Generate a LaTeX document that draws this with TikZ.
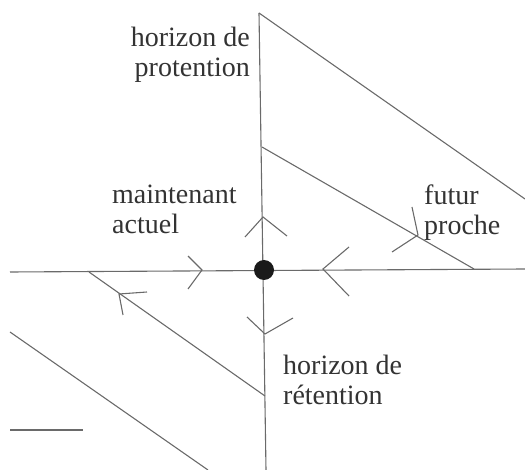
\documentclass[tikz,border=0pt]{standalone}
\usepackage{fontspec}
\setmainfont{Liberation Serif}
\definecolor{linegray}{HTML}{6A6A6A}
\definecolor{textgray}{HTML}{333333}
\definecolor{dotblack}{HTML}{1A1A1A}
\begin{document}
\begin{tikzpicture}[x=1pt,y=-1pt,
  line/.style={draw=linegray, line width=1.1pt},
  chev/.style={draw=linegray, line width=1.1pt, line join=miter},
  lbl/.style={text=textgray, font=\fontsize{28}{30}\selectfont, inner sep=0pt},
  dot/.style={circle, fill=dotblack, minimum size=20pt, inner sep=0pt}]
\useasboundingbox (0,0) rectangle (525,470);
% coordinates
\coordinate (vtop) at (259,13);
\coordinate (vbot) at (266,470);
\coordinate (d1end) at (525,199);
\coordinate (v2) at (262,147);
\coordinate (d2end) at (474,269);
\coordinate (hl) at (10,272);
\coordinate (hr) at (525,269);
\coordinate (d3s) at (89,272);
\coordinate (d3e) at (265,396);
\coordinate (d4s) at (10,332);
\coordinate (d4e) at (208,470);
\coordinate (sl) at (10,430);
\coordinate (sr) at (83,430);
% lines
\draw[line] (vtop) -- (vbot);
\draw[line] (vtop) -- (d1end);
\draw[line] (v2) -- (d2end);
\draw[line] (hl) -- (hr);
\draw[line] (d3s) -- (d3e);
\draw[line] (d4s) -- (d4e);
\draw[line] (sl) -- (sr);
\node[dot] (now) at (264,270) {};
% chevrons
\draw[chev] (188,256) -- (202,270) -- (188,289);
\draw[chev] (349,247) -- (323,269) -- (349,296);
\draw[chev] (245,237) -- (263,217) -- (287,236);
\draw[chev] (247,317) -- (265,334) -- (293,318);
\draw[chev] (147,292) -- (119,294) -- (123,315);
\draw[chev] (412,207) -- (418,235) -- (392,252);
% labels (anchor at baseline of last line)
\node[lbl, align=right, anchor=base east] (prot) at (250,77) {horizon de\\protention};
\node[lbl, align=left, anchor=base west] (maint) at (112,234) {maintenant\\actuel};
\node[lbl, align=left, anchor=base west] (futur) at (424,235) {futur\\proche};
\node[lbl, align=left, anchor=base west] (ret) at (283,404) {horizon de\\r\'etention};
\end{tikzpicture}
\end{document}
